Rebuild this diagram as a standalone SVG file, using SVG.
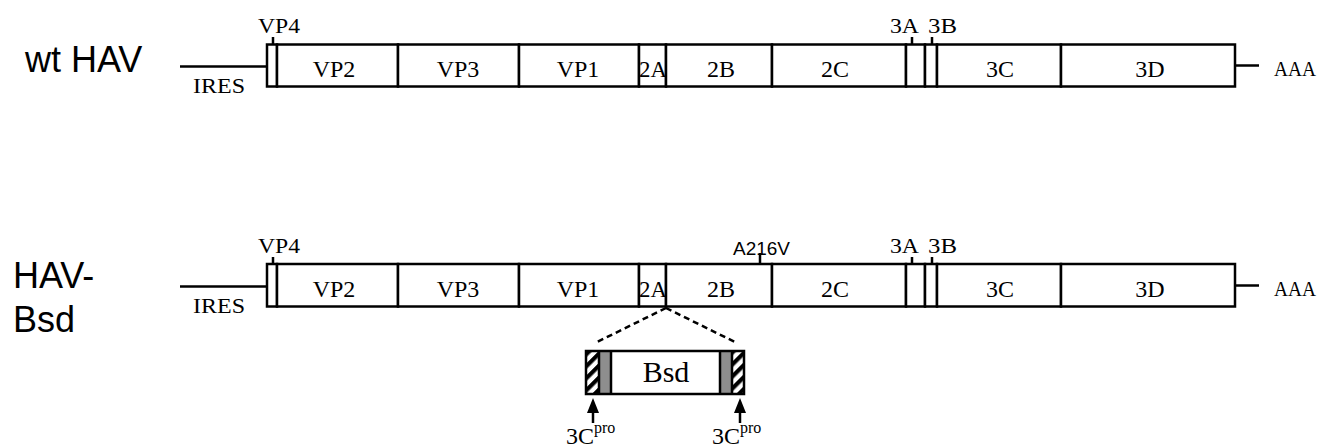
<svg xmlns="http://www.w3.org/2000/svg" width="1322" height="448" viewBox="0 0 1322 448">
<style>
.box{fill:#fff;stroke:#000;stroke-width:2.5}
.frame{fill:none;stroke:#000;stroke-width:2.5}
.ln{stroke:#000;stroke-width:2.5;fill:none}
.t{font-family:"Liberation Serif","Times New Roman",serif;font-size:24px;fill:#000;text-anchor:middle}
.s{font-family:"Liberation Serif","Times New Roman",serif;font-size:22px;fill:#000}
.big{font-family:"Liberation Sans",Arial,sans-serif;font-size:36px;fill:#000}
.mut{font-family:"Liberation Sans",Arial,sans-serif;font-size:18px;fill:#000}
.dash{stroke:#000;stroke-width:2.5;stroke-dasharray:6,4;fill:none}
.cp{font-family:"Liberation Serif","Times New Roman",serif;font-size:24px;fill:#000}
.head{fill:#000}
</style>
<defs>
<pattern id="hatch" patternUnits="userSpaceOnUse" width="8.5" height="8.5" patternTransform="rotate(45)">
<rect width="8.5" height="8.5" fill="#fff"/>
<rect width="4.2" height="8.5" fill="#000"/>
</pattern>
</defs>

<g id="label-wt"><text class="big" x="25" y="72">wt HAV</text></g>
<g id="label-bsd"><text class="big" x="13" y="288">HAV-</text><text class="big" x="13" y="332">Bsd</text></g>

<!-- wt HAV genome -->
<g id="wt-genome">
<g id="wt-ires"><line class="ln" x1="180" y1="66.5" x2="267" y2="66.5"/><text class="s" x="193" y="93" textLength="52" lengthAdjust="spacingAndGlyphs">IRES</text></g>
<g id="wt-vp4"><rect class="box" x="267" y="44.5" width="10" height="42"/><text class="s" x="258" y="33" textLength="42" lengthAdjust="spacingAndGlyphs">VP4</text></g>
<g id="wt-vp2"><rect class="box" x="277" y="44.5" width="121" height="42"/><text class="t" x="334" y="77">VP2</text></g>
<g id="wt-vp3"><rect class="box" x="398" y="44.5" width="121" height="42"/><text class="t" x="458" y="77">VP3</text></g>
<g id="wt-vp1"><rect class="box" x="519" y="44.5" width="120" height="42"/><text class="t" x="578" y="77">VP1</text></g>
<g id="wt-2a"><rect class="box" x="639" y="44.5" width="27" height="42"/><text class="t" x="653" y="77" textLength="28" lengthAdjust="spacingAndGlyphs">2A</text></g>
<g id="wt-2b"><rect class="box" x="666" y="44.5" width="106" height="42"/><text class="t" x="721" y="77">2B</text></g>
<g id="wt-2c"><rect class="box" x="772" y="44.5" width="134" height="42"/><text class="t" x="835" y="77">2C</text></g>
<g id="wt-3a"><rect class="box" x="906" y="44.5" width="19" height="42"/><text class="s" x="890" y="33" textLength="29" lengthAdjust="spacingAndGlyphs">3A</text></g>
<g id="wt-3b"><rect class="box" x="925" y="44.5" width="12" height="42"/><text class="s" x="928" y="33" textLength="29" lengthAdjust="spacingAndGlyphs">3B</text></g>
<g id="wt-3c"><rect class="box" x="937" y="44.5" width="124" height="42"/><text class="t" x="1000" y="77">3C</text></g>
<g id="wt-3d"><rect class="box" x="1061" y="44.5" width="174" height="42"/><text class="t" x="1150" y="77">3D</text></g>
<g id="wt-aaa"><line class="ln" x1="1235" y1="65.5" x2="1259" y2="65.5"/><text class="s" x="1274" y="76" textLength="42" lengthAdjust="spacingAndGlyphs">AAA</text></g>
</g>

<!-- HAV-Bsd genome -->
<g id="bsd-genome">
<g id="b-ires"><line class="ln" x1="180" y1="286.5" x2="267" y2="286.5"/><text class="s" x="193" y="313" textLength="52" lengthAdjust="spacingAndGlyphs">IRES</text></g>
<g id="b-vp4"><rect class="box" x="267" y="264" width="10" height="42.5"/><text class="s" x="258" y="253" textLength="42" lengthAdjust="spacingAndGlyphs">VP4</text></g>
<g id="b-vp2"><rect class="box" x="277" y="264" width="121" height="42.5"/><text class="t" x="334" y="297">VP2</text></g>
<g id="b-vp3"><rect class="box" x="398" y="264" width="121" height="42.5"/><text class="t" x="458" y="297">VP3</text></g>
<g id="b-vp1"><rect class="box" x="519" y="264" width="120" height="42.5"/><text class="t" x="578" y="297">VP1</text></g>
<g id="b-2a"><rect class="box" x="639" y="264" width="27" height="42.5"/><text class="t" x="653" y="297" textLength="28" lengthAdjust="spacingAndGlyphs">2A</text></g>
<g id="b-2b"><rect class="box" x="666" y="264" width="106" height="42.5"/><text class="t" x="721" y="297">2B</text><text class="mut" x="733" y="255" textLength="57" lengthAdjust="spacingAndGlyphs">A216V</text></g>
<g id="b-2c"><rect class="box" x="772" y="264" width="134" height="42.5"/><text class="t" x="835" y="297">2C</text></g>
<g id="b-3a"><rect class="box" x="906" y="264" width="19" height="42.5"/><text class="s" x="890" y="253" textLength="29" lengthAdjust="spacingAndGlyphs">3A</text></g>
<g id="b-3b"><rect class="box" x="925" y="264" width="12" height="42.5"/><text class="s" x="928" y="253" textLength="29" lengthAdjust="spacingAndGlyphs">3B</text></g>
<g id="b-3c"><rect class="box" x="937" y="264" width="124" height="42.5"/><text class="t" x="1000" y="297">3C</text></g>
<g id="b-3d"><rect class="box" x="1061" y="264" width="174" height="42.5"/><text class="t" x="1150" y="297">3D</text></g>
<g id="b-aaa"><line class="ln" x1="1235" y1="285.5" x2="1259" y2="285.5"/><text class="s" x="1274" y="296" textLength="42" lengthAdjust="spacingAndGlyphs">AAA</text></g>
</g>

<!-- Bsd insert -->
<g id="bsd-insert">
<rect x="586" y="351" width="158" height="43" fill="#fff"/>
<rect x="587" y="352" width="12" height="41" fill="url(#hatch)"/>
<rect x="599" y="352" width="12" height="41" fill="#8e8e8e"/>
<rect x="720" y="352" width="12" height="41" fill="#8e8e8e"/>
<rect x="732" y="352" width="11" height="41" fill="url(#hatch)"/>
<line class="ln" x1="599" y1="351" x2="599" y2="394"/>
<line class="ln" x1="611" y1="351" x2="611" y2="394"/>
<line class="ln" x1="720" y1="351" x2="720" y2="394"/>
<line class="ln" x1="732" y1="351" x2="732" y2="394"/>
<rect class="frame" x="586" y="351" width="158" height="43"/>
<text x="666" y="382" font-family="Liberation Serif,Times New Roman,serif" font-size="30" text-anchor="middle">Bsd</text>
</g>
<g id="site-left"><text class="cp" x="566" y="444">3C<tspan font-size="16" dy="-11">pro</tspan></text></g>
<g id="site-right"><text class="cp" x="712" y="444">3C<tspan font-size="16" dy="-11">pro</tspan></text></g>

<g id="connectors">
<line class="ln" x1="273" y1="37" x2="273" y2="44"/>
<line class="ln" x1="912" y1="37" x2="912" y2="44"/>
<line class="ln" x1="932" y1="37" x2="932" y2="44"/>
<line class="ln" x1="273" y1="257" x2="273" y2="264"/>
<line class="ln" x1="912" y1="257" x2="912" y2="264"/>
<line class="ln" x1="932" y1="257" x2="932" y2="264"/>
<line class="ln" x1="760" y1="253" x2="760" y2="264"/>
<line class="dash" x1="666" y1="308" x2="595" y2="343"/>
<line class="dash" x1="666" y1="308" x2="737" y2="343"/>
<line class="ln" x1="593" y1="423" x2="593" y2="410"/>
<polygon class="head" points="593,398 599,413 587,413"/>
<line class="ln" x1="740" y1="423" x2="740" y2="410"/>
<polygon class="head" points="740,398 746,413 734,413"/>
</g>
</svg>
